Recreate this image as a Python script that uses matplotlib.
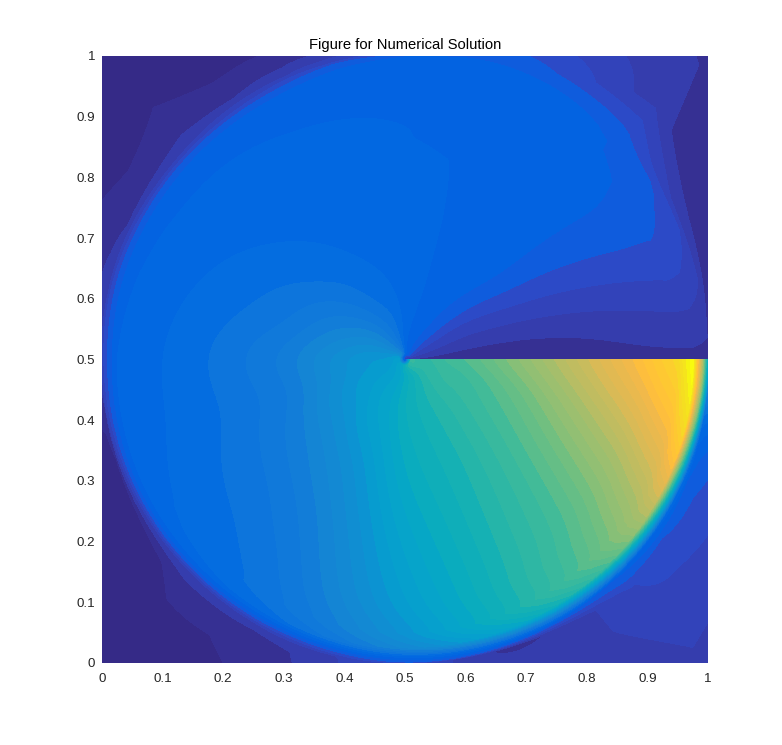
import numpy as np
import matplotlib
matplotlib.use("Agg")
import matplotlib.pyplot as plt
from matplotlib.colors import ListedColormap

plt.rcParams['font.family'] = ['Liberation Sans', 'DejaVu Sans']

title = "Figure for Numerical Solution"
tick_values = [0, 0.1, 0.2, 0.3, 0.4, 0.5, 0.6, 0.7, 0.8, 0.9, 1]
tick_labels = ["0", "0.1", "0.2", "0.3", "0.4", "0.5", "0.6", "0.7", "0.8", "0.9", "1"]

# Field, on a polar table around the centre (0.5, 0.5).
angles_deg = [0, 5, 15, 30, 45, 60, 75, 90, 105, 120, 135, 150, 165, 180,
              195, 210, 225, 240, 255, 270, 285, 300, 315, 330, 345, 355, 360]
# up to 1: fraction of the circle radius; above 1: share of the way to the square's edge
radial_stops = [0.02, 0.2, 0.4, 0.6, 0.8, 0.9, 0.95, 0.98, 1.0, 1.15, 1.5, 2.0]
centre_value = 0.05
field_rows = [
    [.03, .02, .02, .03, .03, .03, .03, .03, .03, .03, .03, .03],
    [.04, .03, .03, .03, .04, .04, .04, .04, .04, .04, .04, .04],
    [.06, .05, .05, .06, .07, .08, .08, .07, .06, .05, .04, .03],
    [.08, .07, .09, .10, .11, .11, .10, .095, .09, .05, .03, .03],
    [.10, .11, .13, .13, .13, .125, .12, .12, .115, .10, .04, .03],
    [.12, .13, .14, .14, .14, .135, .13, .13, .13, .12, .10, .08],
    [.13, .14, .14, .14, .14, .14, .135, .13, .13, .13, .125, .12],
    [.15, .15, .14, .14, .14, .14, .14, .13, .12, .12, .12, .12],
    [.20, .17, .15, .14, .14, .14, .135, .12, .10, .08, .06, .04],
    [.24, .18, .16, .15, .14, .14, .13, .10, .07, .04, .02, .01],
    [.27, .21, .17, .155, .145, .14, .13, .10, .06, .03, .015, .00],
    [.30, .24, .19, .165, .15, .14, .13, .10, .06, .03, .02, .015],
    [.33, .27, .20, .175, .155, .145, .135, .11, .08, .06, .05, .04],
    [.35, .30, .23, .19, .16, .15, .14, .10, .07, .07, .07, .07],
    [.35, .30, .21, .18, .16, .15, .145, .11, .06, .02, .01, .005],
    [.36, .32, .23, .19, .17, .16, .15, .11, .05, .01, .00, .00],
    [.37, .33, .25, .20, .175, .17, .155, .11, .05, .025, .01, .00],
    [.38, .36, .28, .23, .195, .19, .165, .11, .06, .04, .025, .02],
    [.39, .38, .33, .29, .26, .235, .20, .12, .07, .05, .05, .05],
    [.42, .42, .40, .37, .34, .31, .26, .15, .10, .10, .10, .10],
    [.44, .44, .43, .42, .41, .41, .34, .17, .09, .03, .03, .03],
    [.46, .46, .46, .47, .48, .50, .43, .22, .11, .04, .05, .05],
    [.48, .48, .50, .52, .54, .58, .52, .28, .12, .08, .07, .05],
    [.50, .50, .54, .59, .64, .70, .72, .38, .15, .11, .09, .08],
    [.50, .51, .58, .67, .76, .84, .92, .52, .18, .13, .12, .11],
    [.50, .53, .62, .72, .83, .90, 1.0, .68, .30, .20, .20, .20],
    [.50, .54, .64, .75, .86, .93, 1.0, .72, .43, .43, .43, .43],
]

parula_colors = [
    (.2081,.1663,.5292),(.2116,.1898,.5777),(.2123,.2138,.6270),(.2081,.2386,.6771),
    (.1959,.2645,.7279),(.1707,.2919,.7792),(.1253,.3242,.8303),(.0591,.3598,.8683),
    (.0117,.3875,.8820),(.0060,.4086,.8828),(.0165,.4266,.8786),(.0329,.4430,.8720),
    (.0498,.4586,.8641),(.0629,.4737,.8554),(.0723,.4887,.8467),(.0779,.5040,.8384),
    (.0793,.5200,.8312),(.0749,.5375,.8263),(.0641,.5570,.8240),(.0488,.5772,.8228),
    (.0343,.5966,.8199),(.0265,.6137,.8135),(.0239,.6287,.8038),(.0231,.6418,.7913),
    (.0228,.6535,.7768),(.0267,.6642,.7607),(.0384,.6743,.7436),(.0590,.6838,.7254),
    (.0843,.6928,.7062),(.1133,.7015,.6859),(.1453,.7098,.6646),(.1801,.7177,.6424),
    (.2178,.7250,.6193),(.2586,.7317,.5954),(.3022,.7376,.5712),(.3482,.7424,.5473),
    (.3953,.7459,.5244),(.4420,.7481,.5033),(.4871,.7491,.4840),(.5300,.7491,.4661),
    (.5709,.7485,.4494),(.6099,.7473,.4337),(.6473,.7456,.4188),(.6834,.7435,.4044),
    (.7184,.7411,.3905),(.7525,.7384,.3768),(.7858,.7356,.3633),(.8185,.7327,.3498),
    (.8507,.7299,.3360),(.8824,.7274,.3217),(.9139,.7258,.3063),(.9450,.7261,.2886),
    (.9739,.7314,.2666),(.9938,.7455,.2403),(.9990,.7653,.2164),(.9955,.7861,.1967),
    (.9880,.8066,.1794),(.9789,.8271,.1633),(.9697,.8481,.1475),(.9626,.8705,.1309),
    (.9589,.8949,.1132),(.9598,.9218,.0948),(.9661,.9514,.0755),(.9763,.9831,.0538),
]
cmap = ListedColormap(parula_colors)

table = np.array(field_rows)
table = np.hstack([np.full((table.shape[0], 1), centre_value), table])
stops = np.array([0.0] + radial_stops)
angles = np.array(angles_deg, dtype=float)

# resample the table so the circle stays round on screen, then soften the table's kinks
fine_angles = np.linspace(0, 360, 721)
fine_stops = np.unique(np.concatenate([np.linspace(0, 1, 201), np.linspace(1, 2, 61)]))
by_angle = np.array([np.interp(fine_angles, angles, table[:, j]) for j in range(table.shape[1])]).T
Z = np.array([np.interp(fine_stops, stops, row) for row in by_angle])


def soften(a, sigma, axis):
    half = int(3 * sigma)
    k = np.exp(-0.5 * (np.arange(-half, half + 1) / sigma) ** 2)
    k /= k.sum()
    pad = [(0, 0), (0, 0)]
    pad[axis] = (half, half)
    b = np.pad(a, pad, mode='edge')
    return np.apply_along_axis(lambda v: np.convolve(v, k, mode='valid'), axis, b)


Z = soften(Z, 12, 0)
radial = soften(Z, 10, 1)
w = np.clip((0.92 - fine_stops) / 0.1, 0, 1) * np.clip((fine_stops - 0.03) / 0.12, 0, 1)
w = w[None, :]
Z = w * radial + (1 - w) * Z

th = np.deg2rad(fine_angles)
edge = 0.5 / np.maximum(np.abs(np.cos(th)), np.abs(np.sin(th)))
TH, U = np.meshgrid(th, fine_stops, indexing='ij')
E = np.repeat(edge[:, None], fine_stops.size, axis=1)
R = np.where(U <= 1, 0.5 * U, 0.5 + (U - 1) * (E - 0.5))
X = 0.5 + R * np.cos(TH)
Y = 0.5 + R * np.sin(TH)

fig = plt.figure(figsize=(7.82, 7.45), dpi=100)
W, H = 782, 745
ax = fig.add_axes([102 / W, (H - 662.7) / H, 606 / W, 606.7 / H])
ax.contourf(X, Y, Z, levels=np.linspace(0, 1, 51), cmap=cmap, vmin=0, vmax=1, extend='both')
ax.set_xlim(0, 1)
ax.set_ylim(0, 1)
ax.set_xticks(tick_values, tick_labels)
ax.set_yticks(tick_values, tick_labels)
ax.tick_params(length=0, labelsize=9.6, labelcolor='#262626', pad=5)
ax.tick_params(axis='x', pad=7.5)
for s in ax.spines.values():
    s.set_visible(False)
ax.set_title(title, fontsize=10.6, color='black', pad=5)
fig.savefig("out.png", dpi=100)
